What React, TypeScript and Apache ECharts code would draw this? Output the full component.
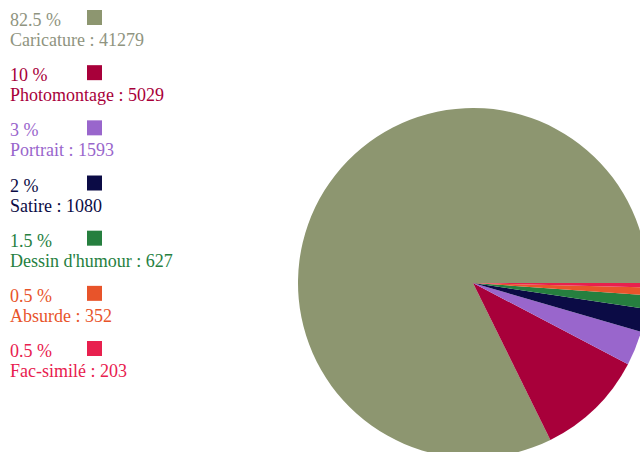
import React, { useEffect, useRef } from "react";
import * as echarts from "echarts";

const categories = ["Caricature", "Photomontage", "Portrait", "Satire", "Dessin d'humour", "Absurde", "Fac-similé"];
const values = [41279, 5029, 1593, 1080, 627, 352, 203];
const percentLabels = ["82.5 %", "10 %", "3 %", "2 %", "1.5 %", "0.5 %", "0.5 %"];
const colors = ["#8D9670", "#A8003A", "#9966CC", "#0B0B45", "#267F3F", "#E8542A", "#E8204E"];
const textColors = ["#8F9480", "#A8003A", "#9966CC", "#0B0B45", "#267F3F", "#E8542A", "#E8204E"];

export default function App() {
  const ref = useRef<HTMLDivElement>(null);
  useEffect(() => {
    if (!ref.current) return;
    const chart = echarts.init(ref.current, undefined, { renderer: "svg" });
    const font = "Liberation Serif, Times New Roman, serif";
    const step = 55.17;
    const graphic: any[] = [];
    categories.forEach((c, i) => {
      const base = 24 + i * step;
      graphic.push({
        type: "text",
        left: 10,
        top: base - 13,
        style: { text: percentLabels[i], fill: textColors[i], font: `18px ${font}` },
      });
      graphic.push({
        type: "rect",
        shape: { x: 87, y: base - 14, width: 15, height: 15 },
        style: { fill: colors[i] },
      });
      graphic.push({
        type: "text",
        left: 10,
        top: base + 7,
        style: { text: `${c} : ${values[i]}`, fill: textColors[i], font: `18px ${font}` },
      });
    });
    chart.setOption({
      animation: false,
      backgroundColor: "#ffffff",
      graphic,
      series: [
        {
          type: "pie",
          center: [473, 283],
          radius: 175,
          startAngle: 0,
          clockwise: false,
          label: { show: false },
          labelLine: { show: false },
          emphasis: { disabled: true },
          data: categories.map((c, i) => ({ name: c, value: values[i], itemStyle: { color: colors[i] } })),
        },
      ],
    });
    return () => chart.dispose();
  }, []);
  return <div ref={ref} style={{ position: "fixed", left: 0, top: 0, width: 640, height: 452 }} />;
}
